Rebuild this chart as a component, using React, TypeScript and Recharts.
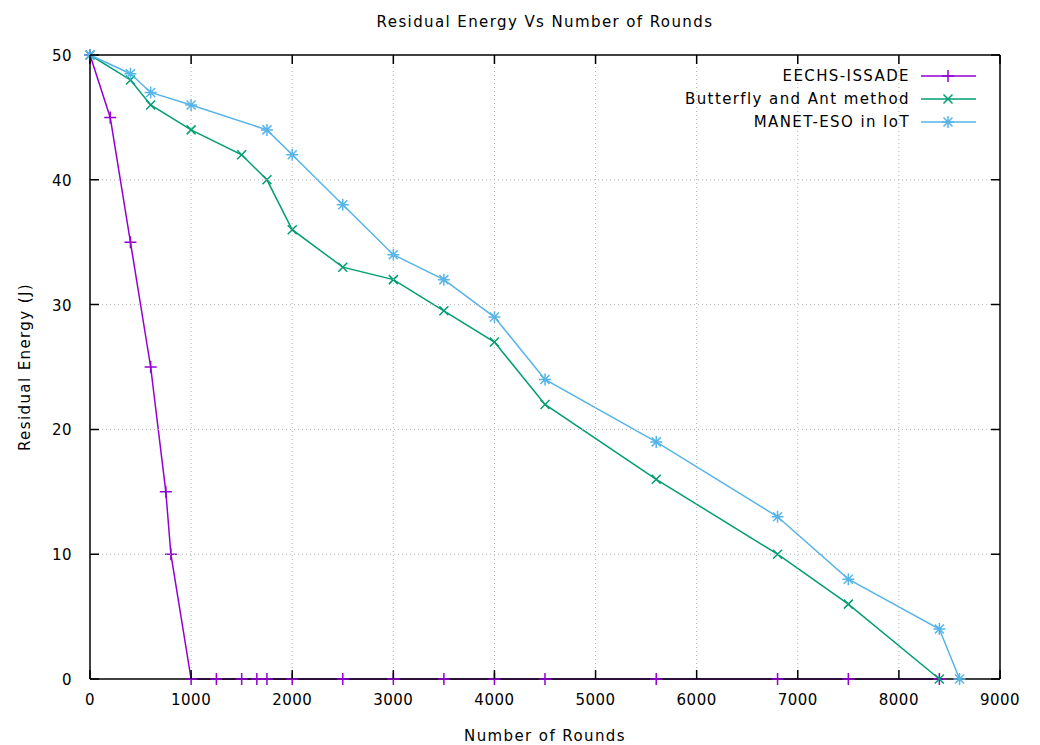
import React from "react"
import { LineChart, Line, XAxis, YAxis } from "recharts"

// EECHS-ISSADE
const eechsRounds = [0, 200, 400, 600, 750, 800, 1000, 1250, 1500, 1650, 1750, 2000, 2500, 3000, 3500, 4000, 4500, 5600, 6800, 7500, 8400]
const eechsEnergy = [50, 45, 35, 25, 15, 10, 0, 0, 0, 0, 0, 0, 0, 0, 0, 0, 0, 0, 0, 0, 0]

// Butterfly and Ant method
const antRounds = [0, 400, 600, 1000, 1500, 1750, 2000, 2500, 3000, 3500, 4000, 4500, 5600, 6800, 7500, 8400]
const antEnergy = [50, 48, 46, 44, 42, 40, 36, 33, 32, 29.5, 27, 22, 16, 10, 6, 0]

// MANET-ESO in IoT
const esoRounds = [0, 400, 600, 1000, 1750, 2000, 2500, 3000, 3500, 4000, 4500, 5600, 6800, 7500, 8400, 8600]
const esoEnergy = [50, 48.5, 47, 46, 44, 42, 38, 34, 32, 29, 24, 19, 13, 8, 4, 0]

const xTicks = [0, 1000, 2000, 3000, 4000, 5000, 6000, 7000, 8000, 9000]
const yTicks = [0, 10, 20, 30, 40, 50]

const FONT = "'DejaVu Sans', sans-serif"
const PURPLE = "#9400d3"
const GREEN = "#009e73"
const BLUE = "#56b4e9"

// plot box size (chart size minus margins and axis sizes)
const PLOT_W = 910
const PLOT_H = 624
const TICK = 9

const toRows = (xs: number[], ys: number[]) => xs.map((x, i) => ({ x, y: ys[i] }))

// last series sits on the top/right axes so the mirrored frame axes get a domain
const series = [
  { name: "EECHS-ISSADE", color: PURPLE, marker: "plus", data: toRows(eechsRounds, eechsEnergy), xId: "bottom", yId: "left" },
  { name: "Butterfly and Ant method", color: GREEN, marker: "cross", data: toRows(antRounds, antEnergy), xId: "bottom", yId: "left" },
  { name: "MANET-ESO in IoT", color: BLUE, marker: "star", data: toRows(esoRounds, esoEnergy), xId: "top", yId: "right" },
]

const Marker = ({ cx, cy, kind, color }: { cx: number; cy: number; kind: string; color: string }) => {
  const s = 6
  const d = 4.5
  const plus = `M${cx - s},${cy}H${cx + s}M${cx},${cy - s}V${cy + s}`
  const cross = `M${cx - d},${cy - d}L${cx + d},${cy + d}M${cx - d},${cy + d}L${cx + d},${cy - d}`
  const path = kind === "plus" ? plus : kind === "cross" ? cross : plus + cross
  return <path d={path} stroke={color} strokeWidth={1.5} fill="none" />
}

const BottomTick = (props: any) => {
  const { x, y, payload } = props
  return (
    <text x={x} y={y + 26} textAnchor="middle" fontFamily={FONT} fontSize={15} letterSpacing={0.5} fill="#000">
      {payload.value}
    </text>
  )
}

const LeftTick = (props: any) => {
  const { x, y, payload } = props
  return (
    <text x={x - 18} y={y + 6} textAnchor="end" fontFamily={FONT} fontSize={15} letterSpacing={0.5} fill="#000">
      {payload.value}
    </text>
  )
}

// vertical grid line plus inward ticks on the top and bottom edges
const TopTick = (props: any) => {
  const { x, y, payload } = props
  const edge = payload.value === 0 || payload.value === 9000
  return (
    <g>
      {!edge && (
        <line x1={x} y1={y} x2={x} y2={y + PLOT_H} stroke="#b4b4b4" strokeWidth={1} strokeDasharray="1 3" />
      )}
      <path
        d={`M${x},${y}V${y + TICK}M${x},${y + PLOT_H}V${y + PLOT_H - TICK}`}
        stroke="#000"
        strokeWidth={1.5}
        fill="none"
      />
    </g>
  )
}

// horizontal grid line plus inward ticks on the right and left edges
const RightTick = (props: any) => {
  const { x, y, payload } = props
  const edge = payload.value === 0 || payload.value === 50
  return (
    <g>
      {!edge && (
        <line x1={x - PLOT_W} y1={y} x2={x} y2={y} stroke="#b4b4b4" strokeWidth={1} strokeDasharray="1 3" />
      )}
      <path
        d={`M${x},${y}H${x - TICK}M${x - PLOT_W},${y}H${x - PLOT_W + TICK}`}
        stroke="#000"
        strokeWidth={1.5}
        fill="none"
      />
    </g>
  )
}

const axisStyle = { stroke: "#000", strokeWidth: 1.5 }

const LegendBox = () => (
  <div
    style={{
      position: "absolute",
      top: 64,
      right: 63,
      fontFamily: FONT,
      fontSize: 15,
      letterSpacing: 1.4,
    }}
  >
    {series.map((s) => (
      <div key={s.name} style={{ display: "flex", alignItems: "center", justifyContent: "flex-end", height: 23 }}>
        <span style={{ whiteSpace: "pre" }}>{s.name}</span>
        <svg width={57} height={16} style={{ marginLeft: 10 }}>
          <line x1={1} y1={8} x2={56} y2={8} stroke={s.color} strokeWidth={1.5} />
          <Marker cx={28} cy={8} kind={s.marker} color={s.color} />
        </svg>
      </div>
    ))}
  </div>
)

export default function App() {
  return (
    <div style={{ position: "absolute", left: 0, top: 0, width: 1040, height: 745, background: "#fff" }}>
      <div
        style={{
          position: "absolute",
          top: 13,
          left: 0,
          width: 1090,
          textAlign: "center",
          fontFamily: FONT,
          fontSize: 15,
          letterSpacing: 1.4,
        }}
      >
        Residual Energy Vs Number of Rounds
      </div>
      <LineChart width={1040} height={745} margin={{ top: 54, right: 39, bottom: 21, left: 30 }}>
        <XAxis
          xAxisId="bottom"
          type="number"
          dataKey="x"
          domain={[0, 9000]}
          ticks={xTicks}
          interval={0}
          height={45}
          tickSize={0}
          tickMargin={0}
          tickLine={false}
          tick={<BottomTick />}
          axisLine={axisStyle}
          label={{
            value: "Number of  Rounds",
            position: "insideBottom",
            offset: -17,
            style: { fontFamily: FONT, fontSize: 15, fill: "#000", whiteSpace: "pre", letterSpacing: 1.4 },
          }}
        />
        <XAxis
          xAxisId="top"
          orientation="top"
          type="number"
          dataKey="x"
          domain={[0, 9000]}
          ticks={xTicks}
          interval={0}
          height={1}
          tickSize={0}
          tickMargin={0}
          tickLine={false}
          tick={<TopTick />}
          axisLine={axisStyle}
        />
        <YAxis
          yAxisId="left"
          type="number"
          domain={[0, 50]}
          ticks={yTicks}
          interval={0}
          width={60}
          tickSize={0}
          tickMargin={0}
          tickLine={false}
          tick={<LeftTick />}
          axisLine={axisStyle}
          label={{
            value: "Residual  Energy (J)",
            angle: -90,
            position: "insideLeft",
            offset: -5,
            style: { fontFamily: FONT, fontSize: 15, fill: "#000", textAnchor: "middle", whiteSpace: "pre", letterSpacing: 1.4 },
          }}
        />
        <YAxis
          yAxisId="right"
          orientation="right"
          type="number"
          domain={[0, 50]}
          ticks={yTicks}
          interval={0}
          width={1}
          tickSize={0}
          tickMargin={0}
          tickLine={false}
          tick={<RightTick />}
          axisLine={axisStyle}
        />
        {series.map((s) => (
          <Line
            key={s.name}
            xAxisId={s.xId}
            yAxisId={s.yId}
            data={s.data}
            dataKey="y"
            name={s.name}
            stroke={s.color}
            strokeWidth={1.5}
            isAnimationActive={false}
            dot={(p: any) => <Marker key={`${s.name}-${p.index}`} cx={p.cx} cy={p.cy} kind={s.marker} color={s.color} />}
            activeDot={false}
          />
        ))}
      </LineChart>
      <LegendBox />
    </div>
  )
}
